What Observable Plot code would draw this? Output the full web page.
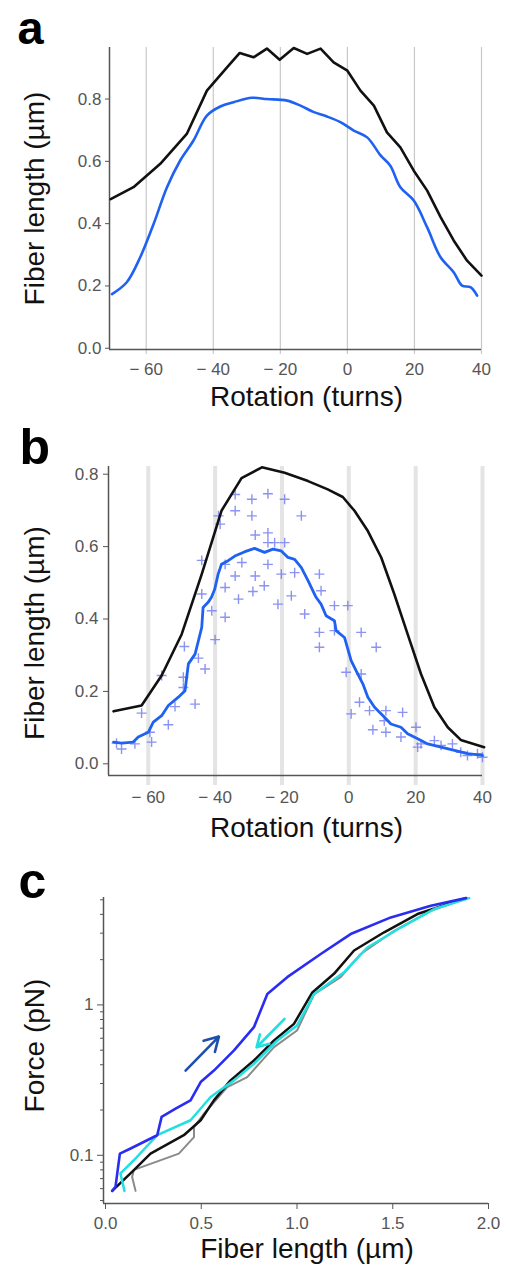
<!DOCTYPE html>
<html><head><meta charset="utf-8">
<script src="https://cdn.jsdelivr.net/npm/d3@7"></script>
<script src="https://cdn.jsdelivr.net/npm/@observablehq/plot@0.6"></script>
<style>
body{margin:0;background:#fff;}
#root{position:relative;width:510px;height:1273px;overflow:hidden;background:#fff;}
#root > div, #root > svg{position:absolute;left:0;}
</style></head>
<body><div id="root"></div>
<script>
// ---------- Panel a ----------
const aRotBlack = [-70.6,-63.8,-55.8,-47.9,-41.9,-35.9,-32.1,-28,-24,-20.2,-16,-12,-8,-4.1,0,3.9,7.9,11.8,15.8,19.8,23.8,27.8,31.7,35.7,40];
const aLenBlack = [0.479,0.517,0.592,0.688,0.827,0.902,0.948,0.934,0.962,0.926,0.964,0.945,0.962,0.918,0.891,0.827,0.779,0.693,0.645,0.570,0.506,0.421,0.346,0.281,0.233];
const aRotBlue = [-70.2,-65.8,-61.8,-57.8,-53.8,-49.9,-45.9,-41.9,-37.9,-33.9,-28.5,-24,-18,-14,-10,-6.1,-2.1,1.9,5.9,9.9,12.8,15.8,19.8,23.8,27.8,31.7,34.2,36.7,38.7];
const aLenBlue = [0.174,0.212,0.292,0.399,0.517,0.602,0.667,0.747,0.776,0.790,0.804,0.800,0.795,0.779,0.758,0.744,0.726,0.699,0.677,0.619,0.586,0.517,0.474,0.388,0.292,0.244,0.201,0.196,0.169];

// ---------- Panel b ----------
const bRotBlack = [-70.4,-62,-56,-50,-44,-38.1,-32.1,-26,-19.2,-12.2,-6.3,-1.8,1.7,5.7,9.7,13.6,17.6,21.6,25.6,29.6,33.5,40.5];
const bLenBlack = [0.145,0.161,0.244,0.358,0.524,0.699,0.789,0.819,0.804,0.781,0.758,0.737,0.699,0.643,0.570,0.469,0.358,0.248,0.156,0.101,0.066,0.046];
const bRotBlue = [-70.4,-68,-64.5,-63,-60,-58.5,-56,-54,-51,-49,-48.5,-48,-46,-45,-44,-43.6,-42.1,-41.1,-40.1,-39.1,-38.1,-36.1,-34.1,-31.1,-28.2,-25.2,-22.7,-20.2,-18.2,-16.2,-14.2,-12.2,-9.8,-8.3,-6.8,-4.3,-3.8,-1.3,0.7,2.7,4.2,5.7,7.7,10.6,12.6,15.6,17.6,20.6,23.6,27.6,31.6,35.6,40];
const bLenBlue = [0.060,0.057,0.060,0.074,0.087,0.115,0.133,0.161,0.184,0.202,0.239,0.276,0.303,0.340,0.377,0.432,0.446,0.460,0.483,0.524,0.551,0.561,0.574,0.586,0.595,0.584,0.593,0.588,0.570,0.565,0.542,0.506,0.460,0.441,0.409,0.395,0.368,0.349,0.285,0.248,0.221,0.184,0.156,0.129,0.110,0.101,0.083,0.069,0.055,0.046,0.037,0.028,0.023];
const bPtsRot = [-69.5,-68,-64,-62,-59,-59.5,-56,-54,-52,-49.2,-49.5,-49.5,-46,-45,-43,-44,-44,-41,-40,-39,-38.5,-37,-37,-37,-34,-34,-34,-33,-32,-29,-29,-28,-28,-28.7,-25.3,-24.2,-24.2,-24.2,-24.2,-22.2,-21.2,-20.2,-19.2,-19.2,-17.2,-16.2,-14.2,-13.2,-8.8,-8.3,-8.8,-8.8,-4.3,-4.3,-0.3,-0.8,0.7,3.7,3.7,3.2,6.2,7.2,8.2,10.6,11.1,11.1,16.1,15.6,20.1,20.6,21.6,25.6,27.6,31,33.5,35.5,38.5,40];
const bPtsLen = [0.057,0.041,0.055,0.140,0.060,0.087,0.244,0.108,0.158,0.324,0.239,0.211,0.165,0.292,0.262,0.469,0.562,0.423,0.343,0.685,0.662,0.405,0.487,0.551,0.699,0.744,0.519,0.455,0.556,0.731,0.685,0.632,0.519,0.476,0.492,0.746,0.638,0.551,0.611,0.611,0.441,0.524,0.731,0.611,0.464,0.528,0.685,0.414,0.524,0.478,0.363,0.322,0.437,0.368,0.437,0.253,0.138,0.363,0.248,0.170,0.147,0.094,0.322,0.119,0.147,0.087,0.142,0.074,0.101,0.046,0.055,0.064,0.051,0.055,0.032,0.023,0.028,0.018];

// ---------- Panel c ----------
const cLenBlue = [0.035,0.052,0.075,0.131,0.27,0.293,0.366,0.444,0.497,0.566,0.671,0.775,0.845,0.949,1.124,1.28,1.49,1.699,1.882];
const cForceBlue = [0.058,0.0617,0.1026,0.111,0.136,0.18,0.204,0.232,0.307,0.366,0.498,0.711,1.18,1.53,2.18,2.96,3.82,4.56,5.13];
const cLenBlack = [0.035,0.148,0.235,0.409,0.497,0.566,0.653,0.775,0.88,0.984,1.08,1.193,1.298,1.455,1.629,1.882];
const cForceBlack = [0.058,0.0796,0.1026,0.136,0.171,0.232,0.315,0.427,0.58,0.748,1.21,1.61,2.30,3.04,4.02,5.13];
const cLenGray = [0.157,0.139,0.148,0.383,0.462,0.462,0.514,0.636,0.74,0.88,1.0,1.09,1.228,1.333,1.507,1.699,1.89];
const cForceGray = [0.058,0.0718,0.08,0.1026,0.132,0.154,0.189,0.284,0.331,0.524,0.676,1.18,1.53,2.18,3.11,4.23,5.13];
const cLenCyan = [0.099,0.078,0.148,0.27,0.444,0.549,0.671,0.775,0.897,1.0,1.089,1.246,1.368,1.542,1.716,1.899];
const cForceCyan = [0.058,0.0757,0.0927,0.136,0.171,0.244,0.315,0.406,0.58,0.73,1.18,1.65,2.41,3.27,4.34,5.13];
const cArrowX1 = [0.418,0.935], cArrowY1 = [0.366,0.807], cArrowX2 = [0.592,0.789], cArrowY2 = [0.616,0.523];
const cArrowColor = ["#1f4fae","#22dede"];

const rotTicks = [-60,-40,-20,0,20,40];
const lenTicks = [0,0.2,0.4,0.6,0.8];
const cXTicks = [0,0.5,1,1.5,2];
const cYMajor = [0.1,1];
const cYMinor = [0.05,0.06,0.07,0.08,0.09,0.2,0.3,0.4,0.5,0.6,0.7,0.8,0.9,2,3,4,5];

const FONT = "'Liberation Sans', Arial, Helvetica, sans-serif";
const TICKC = "#555";
const AXC = "#555";
const BLUE = "#1f62f2";
const rotFmt = d => d < 0 ? "\u2212 " + (-d) : String(d);
const pts = (xs, ys) => xs.map((x, i) => ({x, y: ys[i]}));

const root = document.getElementById("root");
function place(el, top) { el.style.position = "absolute"; el.style.top = top + "px"; el.style.left = "0px"; root.appendChild(el); }

function labels(letter, letterDx, letterDy, letterSize, xTitle, xdx, xdy, yTitle, ydx, ydy) {
  return [
    Plot.text([letter], {text: d => d, frameAnchor: "top-left", dx: letterDx, dy: letterDy, fontSize: letterSize, fontWeight: "bold", textAnchor: "start", lineAnchor: "bottom", fill: "#000"}),
    Plot.text([xTitle], {text: d => d, frameAnchor: "bottom", dx: xdx, dy: xdy, fontSize: 28, textAnchor: "middle", lineAnchor: "bottom", fill: "#111"}),
    Plot.text([yTitle], {text: d => d, frameAnchor: "left", dx: ydx, dy: ydy, fontSize: 28, rotate: -90, textAnchor: "middle", lineAnchor: "bottom", fill: "#111"})
  ];
}

// Panel a
const aDom = [-70.95, 40], aYDom = [-0.004, 0.9655];
const plotA = Plot.plot({
  width: 510, height: 420, marginLeft: 109, marginRight: 29, marginTop: 47, marginBottom: 71,
  style: {fontFamily: FONT, background: "transparent", overflow: "visible"},
  x: {domain: aDom}, y: {domain: aYDom},
  marks: [
    Plot.ruleX(rotTicks, {stroke: "#c8c8c8", strokeWidth: 1.2, insetBottom: -5}),
    Plot.ruleX([aDom[0]], {stroke: AXC, strokeWidth: 1.5}),
    Plot.ruleY([aYDom[0]], {stroke: AXC, strokeWidth: 1.5}),
    Plot.axisX(rotTicks, {tickSize: 0, tickPadding: 13, fontSize: 17, color: TICKC, tickFormat: rotFmt, label: null}),
    Plot.axisY(lenTicks, {tickSize: 4, tickPadding: 4, fontSize: 17, color: TICKC, tickFormat: d => d.toFixed(1), label: null}),
    Plot.line(pts(aRotBlack, aLenBlack), {x: "x", y: "y", stroke: "#111", strokeWidth: 2.6}),
    Plot.line(pts(aRotBlue, aLenBlue), {x: "x", y: "y", stroke: BLUE, strokeWidth: 2.6, curve: "catmull-rom"}),
    ...labels("a", 17 - 109, 43 - 47, 47, "Rotation (turns)", 11, 56, "Fiber length (µm)", 43 - 109, 0)
  ]
});
place(plotA, 0);

// Panel b
const bDom = [-71.9, 40], bYDom = [-0.0323, 0.8213];
const plotB = Plot.plot({
  width: 510, height: 420, marginLeft: 108, marginRight: 28, marginTop: 46, marginBottom: 65,
  style: {fontFamily: FONT, background: "transparent", overflow: "visible"},
  x: {domain: bDom}, y: {domain: bYDom},
  marks: [
    Plot.ruleX(rotTicks, {stroke: "#e4e4e4", strokeWidth: 4, insetBottom: -10}),
    Plot.ruleX([bDom[0]], {stroke: AXC, strokeWidth: 1.5}),
    Plot.ruleY([bYDom[0]], {stroke: AXC, strokeWidth: 1.5}),
    Plot.axisX(rotTicks, {tickSize: 0, tickPadding: 15, fontSize: 17, color: TICKC, tickFormat: rotFmt, label: null}),
    Plot.axisY(lenTicks, {tickSize: 5, tickPadding: 5, fontSize: 17, color: TICKC, tickFormat: d => d.toFixed(1), label: null}),
    Plot.dot(pts(bPtsRot, bPtsLen), {x: "x", y: "y", symbol: "plus", r: 3.3, stroke: "#6e78f0", strokeOpacity: 0.8, strokeWidth: 1.4}),
    Plot.line(pts(bRotBlack, bLenBlack), {x: "x", y: "y", stroke: "#111", strokeWidth: 2.6}),
    Plot.line(pts(bRotBlue, bLenBlue), {x: "x", y: "y", stroke: BLUE, strokeWidth: 2.8}),
    ...labels("b", 19 - 108, 43 - 46, 50, "Rotation (turns)", 11, 61, "Fiber length (µm)", 43 - 108, 12)
  ]
});
place(plotB, 420);

// Panel c
const cDom = [-0.0105, 2], cYDom = [0.0478, 5.18];
const plotC = Plot.plot({
  width: 510, height: 433, marginLeft: 103, marginRight: 22, marginTop: 57, marginBottom: 70,
  style: {fontFamily: FONT, background: "transparent", overflow: "visible"},
  x: {domain: cDom}, y: {type: "log", domain: cYDom},
  marks: [
    Plot.ruleX([cDom[0]], {stroke: AXC, strokeWidth: 1.5}),
    Plot.ruleY([cYDom[0]], {stroke: AXC, strokeWidth: 1.5}),
    Plot.axisX(cXTicks, {tickSize: 6, tickPadding: 7, fontSize: 17, color: TICKC, tickFormat: d => d.toFixed(1), label: null}),
    Plot.axisY(cYMajor, {tickSize: 6, tickPadding: 4, fontSize: 17, color: TICKC, tickFormat: d => String(d), label: null}),
    Plot.axisY(cYMinor, {tickSize: 3, tickFormat: () => "", color: TICKC, label: null}),
    Plot.line(pts(cLenGray, cForceGray), {x: "x", y: "y", stroke: "#8a8a8a", strokeWidth: 2}),
    Plot.line(pts(cLenBlack, cForceBlack), {x: "x", y: "y", stroke: "#111", strokeWidth: 2.5}),
    Plot.line(pts(cLenCyan, cForceCyan), {x: "x", y: "y", stroke: "#22e0e0", strokeWidth: 2.5}),
    Plot.line(pts(cLenBlue, cForceBlue), {x: "x", y: "y", stroke: "#2b2cf2", strokeWidth: 2.6}),
    Plot.arrow(cArrowX1.map((x1, i) => ({x1, y1: cArrowY1[i], x2: cArrowX2[i], y2: cArrowY2[i], c: cArrowColor[i]})),
      {x1: "x1", y1: "y1", x2: "x2", y2: "y2", stroke: d => d.c, strokeWidth: 2.6, headLength: 11}),
    ...labels("c", 18 - 103, 57 - 57, 50, "Fiber length (µm)", 11, 54, "Force (pN)", 43 - 103, -5)
  ]
});
place(plotC, 840);
</script>
</body></html>
